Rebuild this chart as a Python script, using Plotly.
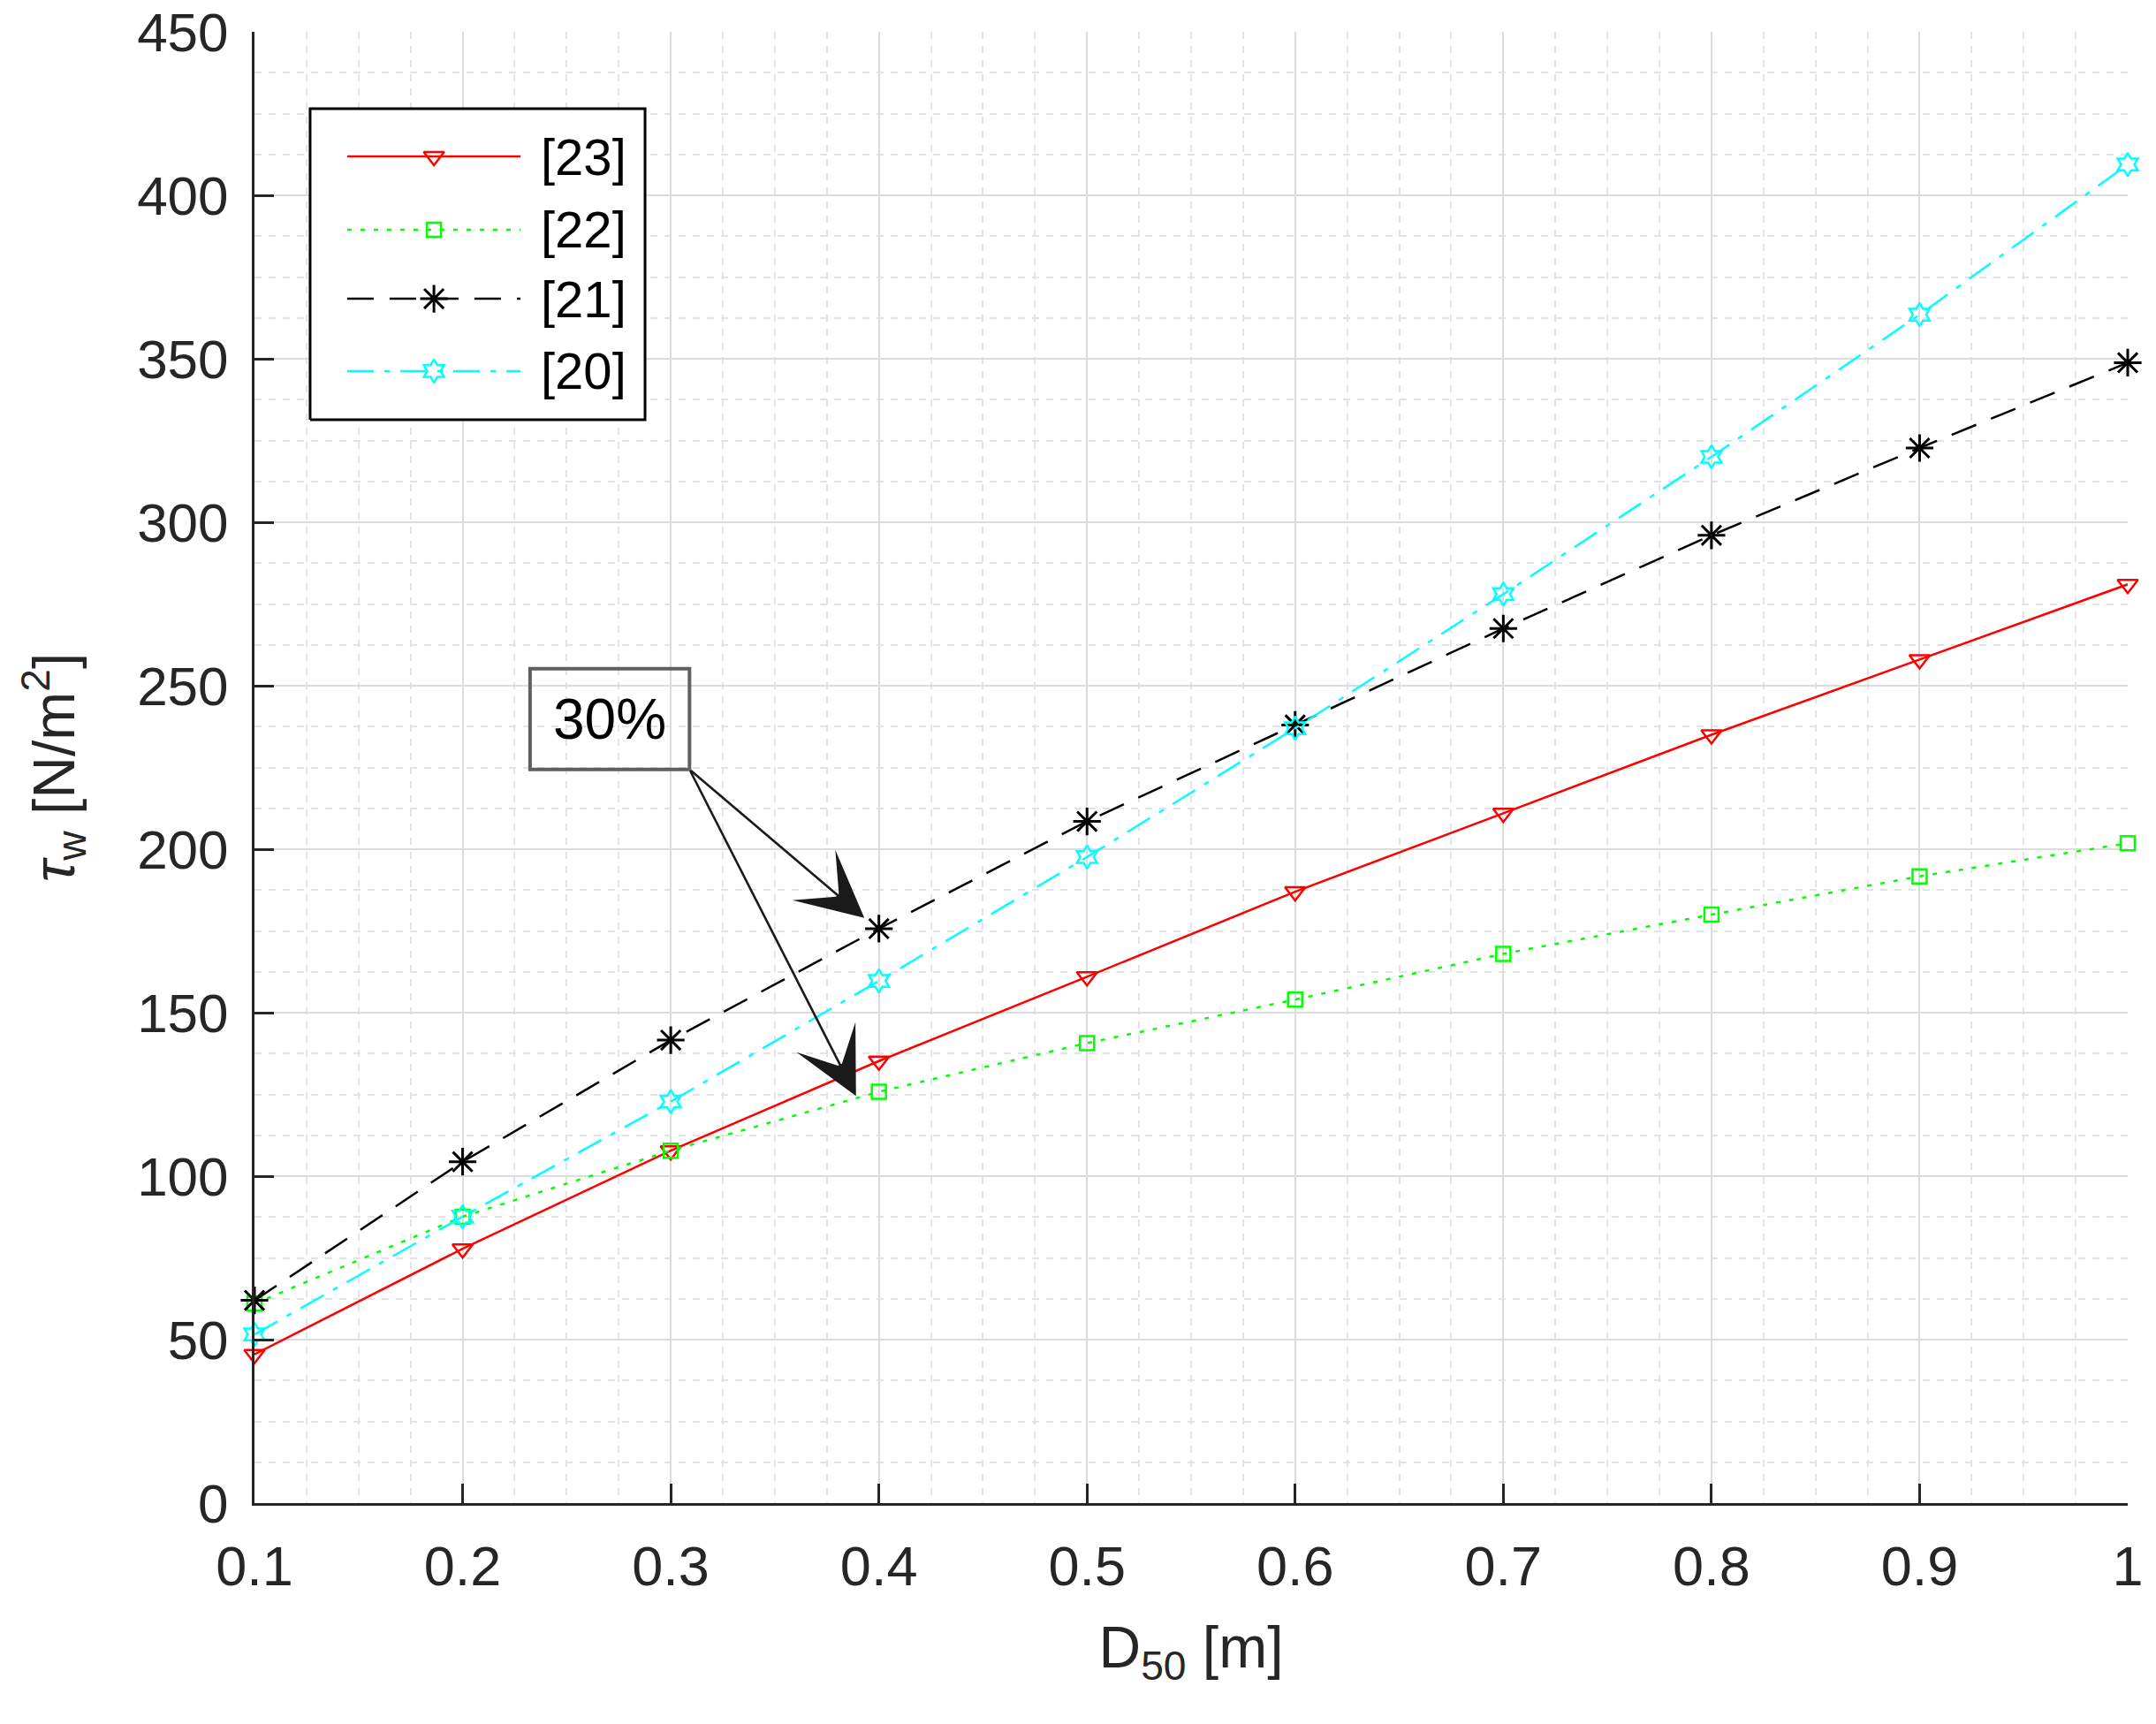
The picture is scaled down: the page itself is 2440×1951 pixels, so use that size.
import plotly.graph_objects as go

# ---------------- data ----------------
d50 = [0.1, 0.2, 0.3, 0.4, 0.5, 0.6, 0.7, 0.8, 0.9, 1.0]
ref23 = [45.5, 77.8, 107.8, 135.2, 161.0, 187.0, 211.0, 235.0, 258.0, 281.0]
ref22 = [61.0, 87.6, 107.8, 125.8, 140.7, 154.0, 168.0, 180.0, 191.7, 201.8]
ref21 = [62.0, 104.4, 141.6, 175.7, 208.5, 238.0, 267.5, 296.0, 322.7, 348.8]
ref20 = [51.6, 87.6, 122.8, 159.7, 197.6, 237.0, 278.0, 320.0, 363.5, 409.4]

series_names = ["[23]", "[22]", "[21]", "[20]"]
x_ticks = [0.1, 0.2, 0.3, 0.4, 0.5, 0.6, 0.7, 0.8, 0.9, 1.0]
x_ticktext = ["0.1", "0.2", "0.3", "0.4", "0.5", "0.6", "0.7", "0.8", "0.9", "1"]
y_ticks = [0, 50, 100, 150, 200, 250, 300, 350, 400, 450]

annot_text = "30%"
annot_box = dict(x0=0.2324, x1=0.309, y0=224.4, y1=255.2)
arrow_targets = [(0.393, 179.0), (0.389, 124.5)]

# ---------------- styles ----------------
styles = [
    dict(color="#FF0000", dash="solid", symbol="triangle-down-open", size=20, mw=2.5),
    dict(color="#00FF00", dash="5px,10px", symbol="square-open", size=16, mw=2.5),
    dict(color="#000000", dash="30px,18px", symbol="asterisk-open", size=26, mw=3),
    dict(color="#00FFFF", dash="30px,12px,6px,12px", symbol="hexagram-open", size=20, mw=2.5),
]
series = [ref23, ref22, ref21, ref20]

W, H = 2436, 1947
ML, MR, MT, MB = 288, 28, 36, 246
FONT = "Liberation Sans, Arial, Helvetica, sans-serif"
AXC = "#262626"

fig = go.Figure()

for name, vals, st in zip(series_names, series, styles):
    fig.add_trace(go.Scatter(
        x=d50, y=vals, name=name, mode="lines+markers",
        line=dict(color=st["color"], width=2.5, dash=st["dash"]),
        marker=dict(symbol=st["symbol"], size=st["size"], color=st["color"],
                    line=dict(color=st["color"], width=st["mw"])),
        cliponaxis=False, showlegend=False,
    ))

# ---------------- custom legend on an overlay axis (0..1 of plot area) ----------------
lg_x0, lg_x1, lg_y0, lg_y1 = 0.0297, 0.2085, 0.7363, 0.9477
line_x0, line_x1, mark_x, text_x = 0.0495, 0.1420, 0.0958, 0.1519
row_y = [0.9153, 0.8655, 0.8186, 0.7694]

fig.add_trace(go.Scatter(
    x=[lg_x0, lg_x1, lg_x1, lg_x0, lg_x0], y=[lg_y0, lg_y0, lg_y1, lg_y1, lg_y0],
    mode="lines", fill="toself", fillcolor="white",
    line=dict(color="#000000", width=3), xaxis="x2", yaxis="y2",
    showlegend=False, hoverinfo="skip",
))
for name, st, ry in zip(series_names, styles, row_y):
    fig.add_trace(go.Scatter(
        x=[line_x0, line_x1], y=[ry, ry], mode="lines",
        line=dict(color=st["color"], width=2.5, dash=st["dash"]),
        xaxis="x2", yaxis="y2", showlegend=False, hoverinfo="skip",
    ))
    fig.add_trace(go.Scatter(
        x=[mark_x], y=[ry], mode="markers",
        marker=dict(symbol=st["symbol"], size=st["size"], color=st["color"],
                    line=dict(color=st["color"], width=st["mw"])),
        xaxis="x2", yaxis="y2", showlegend=False, hoverinfo="skip",
    ))
    fig.add_annotation(x=text_x, y=ry, xref="x2", yref="y2", text=name,
                       showarrow=False, xanchor="left", yanchor="middle",
                       font=dict(family=FONT, size=58, color="#000000"))

# ---------------- 30% annotation ----------------
fig.add_shape(type="rect", xref="x", yref="y", **annot_box,
              line=dict(color="#606060", width=4), fillcolor="rgba(0,0,0,0)")
fig.add_annotation(x=(annot_box["x0"] + annot_box["x1"]) / 2,
                   y=(annot_box["y0"] + annot_box["y1"]) / 2,
                   xref="x", yref="y", text=annot_text, showarrow=False,
                   font=dict(family=FONT, size=64, color="#000000"))
for tx, ty in arrow_targets:
    fig.add_annotation(x=tx, y=ty, xref="x", yref="y",
                       ax=annot_box["x1"], ay=annot_box["y0"], axref="x", ayref="y",
                       text="", showarrow=True, arrowhead=3, arrowsize=4.8,
                       arrowwidth=2.6, arrowcolor="#1a1a1a", standoff=0, startstandoff=0)

# ---------------- layout ----------------
fig.update_layout(
    width=W, height=H,
    margin=dict(l=ML, r=MR, t=MT, b=MB, pad=0),
    paper_bgcolor="white", plot_bgcolor="white",
    font=dict(family=FONT, size=62, color=AXC),
    showlegend=False,
    xaxis=dict(
        range=[0.1, 1.0], tickvals=x_ticks, ticktext=x_ticktext,
        showline=True, linecolor=AXC, linewidth=3, mirror=False,
        ticks="inside", ticklen=22, tickwidth=2.5, tickcolor=AXC,
        tickfont=dict(family=FONT, size=63, color=AXC), ticklabelstandoff=14,
        ticklabeloverflow="allow",
        showgrid=True, gridcolor="#DCDCDC", gridwidth=2,
        minor=dict(dtick=0.025, tick0=0.1, showgrid=True, gridcolor="#E3E3E3",
                   griddash="8px,8px", gridwidth=2, ticks=""),
        zeroline=False, automargin=False,
        title=dict(text="D<sub>50</sub> [m]", standoff=36,
                   font=dict(family=FONT, size=66, color=AXC)),
    ),
    yaxis=dict(
        range=[0, 450], tickvals=y_ticks,
        showline=True, linecolor=AXC, linewidth=3, mirror=False,
        ticks="inside", ticklen=22, tickwidth=2.5, tickcolor=AXC,
        tickfont=dict(family=FONT, size=62, color=AXC), ticklabelstandoff=14,
        ticklabeloverflow="allow",
        showgrid=True, gridcolor="#DCDCDC", gridwidth=2,
        minor=dict(dtick=12.5, tick0=0, showgrid=True, gridcolor="#E3E3E3",
                   griddash="8px,8px", gridwidth=2, ticks=""),
        zeroline=False, automargin=False,
        title=dict(text="<i>τ</i><sub>w</sub> [N/m<sup>2</sup>]", standoff=50,
                   font=dict(family=FONT, size=66, color=AXC)),
    ),
    xaxis2=dict(range=[0, 1], overlaying="x", anchor="y2", visible=False,
                showgrid=False, zeroline=False, fixedrange=True),
    yaxis2=dict(range=[0, 1], overlaying="y", anchor="x2", visible=False,
                showgrid=False, zeroline=False, fixedrange=True),
)

fig.write_html("out.html",
               config={"displayModeBar": False},
               post_script="document.body.style.margin='0';document.body.style.overflow='hidden';")
